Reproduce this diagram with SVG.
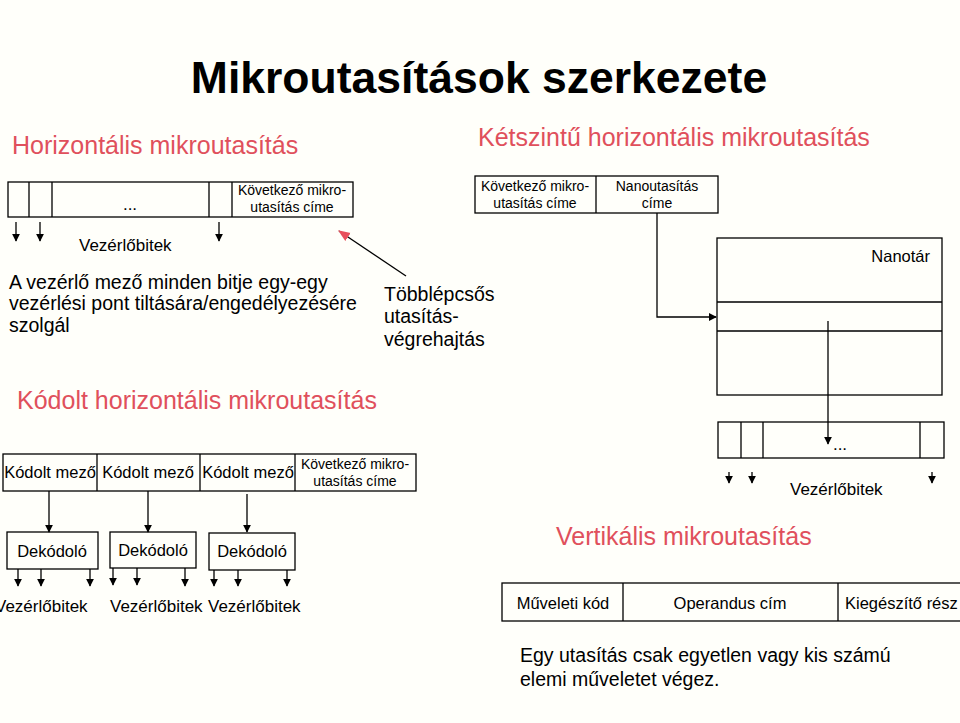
<svg xmlns="http://www.w3.org/2000/svg" width="960" height="723" viewBox="0 0 960 723">
<defs>
<style>
text{font-family:"Liberation Sans",Arial,sans-serif;fill:#000}
.title{font-size:44.5px;font-weight:bold}
.head{font-size:25px;fill:#e0505c}
.s14{font-size:14px}
.s16{font-size:16.5px}
.s17{font-size:17px}
.s19{font-size:19.5px}
.mid{text-anchor:middle}
.box{fill:none;stroke:#000;stroke-width:1.3}
.ln{stroke:#000;stroke-width:1.3;fill:none}
.ar{stroke:#000;stroke-width:1.3;fill:none;marker-end:url(#ah)}
</style>
<marker id="ah" viewBox="0 0 10 10" refX="9" refY="5" markerWidth="8" markerHeight="8" markerUnits="userSpaceOnUse" orient="auto"><path d="M0,0 L10,5 L0,10 z" fill="#000"/></marker>
<marker id="ahr" viewBox="0 0 10 10" refX="9" refY="5" markerWidth="12" markerHeight="12" markerUnits="userSpaceOnUse" orient="auto"><path d="M0,1 L10,5 L0,9 z" fill="#e8505c"/></marker>
</defs>
<rect width="960" height="723" fill="#fffffa"/>
<text class="title mid" x="479" y="93">Mikroutasítások szerkezete</text>

<g id="horizontal">
<text class="head" x="12" y="154">Horizontális mikroutasítás</text>
<rect class="box" x="8" y="182" width="345" height="35"/>
<path class="ln" d="M29,182V217M52,182V217M209,182V217M232,182V217"/>
<text class="s17 mid" x="130" y="210">...</text>
<text class="s14 mid" x="292" y="195">Következő mikro-</text>
<text class="s14 mid" x="292" y="212">utasítás címe</text>
<path class="ar" d="M16,222V241"/>
<path class="ar" d="M40,222V241"/>
<path class="ar" d="M219,222V241"/>
<text class="s17" x="79" y="251">Vezérlőbitek</text>
<text class="s19" x="9" y="289">A vezérlő mező minden bitje egy-egy</text>
<text class="s19" x="9" y="310">vezérlési pont tiltására/engedélyezésére</text>
<text class="s19" x="9" y="332">szolgál</text>
</g>

<g id="multistep">
<text class="s19" x="384" y="301">Többlépcsős</text>
<text class="s19" x="384" y="323">utasítás-</text>
<text class="s19" x="384" y="346">végrehajtás</text>
</g>

<g id="twolevel">
<text class="head" x="478" y="146">Kétszintű horizontális mikroutasítás</text>
<rect class="box" x="475" y="176" width="243" height="37"/>
<path class="ln" d="M596,176V213"/>
<text class="s14 mid" x="535" y="191">Következő mikro-</text>
<text class="s14 mid" x="535" y="208">utasítás címe</text>
<text class="s14 mid" x="657" y="191">Nanoutasítás</text>
<text class="s14 mid" x="657" y="208">címe</text>
</g>

<g id="nanotar">
<rect class="box" x="717" y="238" width="225" height="157"/>
<path class="ln" d="M717,302H942M717,331H942"/>
<text class="s16" x="930" y="262" text-anchor="end">Nanotár</text>
</g>

<g id="nanoword">
<rect class="box" x="718" y="422" width="226" height="36"/>
<path class="ln" d="M741,422V458M763,422V458M920,422V458"/>
<text class="s17 mid" x="840" y="450">...</text>
<path class="ar" d="M729,472V483"/>
<path class="ar" d="M752,472V483"/>
<path class="ar" d="M932,472V483"/>
<text class="s17" x="790" y="495">Vezérlőbitek</text>
</g>

<g id="coded">
<text class="head" x="17" y="409">Kódolt horizontális mikroutasítás</text>
<rect class="box" x="3" y="454" width="413" height="37"/>
<path class="ln" d="M97,454V491"/>
<path class="ln" d="M200,454V491" stroke-width="2.5"/>
<path class="ln" d="M295,454V491"/>
<text class="s16 mid" x="50" y="478">Kódolt mező</text>
<text class="s16 mid" x="148" y="478">Kódolt mező</text>
<text class="s16 mid" x="248" y="478">Kódolt mező</text>
<text class="s14 mid" x="355" y="469">Következő mikro-</text>
<text class="s14 mid" x="355" y="486">utasítás címe</text>
</g>

<g id="dec1">
<rect class="box" x="7" y="532" width="91" height="37"/>
<text class="s16 mid" x="52" y="557">Dekódoló</text>
<path class="ar" d="M18,569V586"/>
<path class="ar" d="M41,569V586"/>
<path class="ar" d="M90,569V586"/>
<text class="s17" x="-5" y="612">Vezérlőbitek</text>
</g>
<g id="dec2">
<rect class="box" x="110" y="532" width="86" height="36"/>
<text class="s16 mid" x="153" y="556">Dekódoló</text>
<path class="ar" d="M113,568V585"/>
<path class="ar" d="M137,568V585"/>
<path class="ln" d="M185,568V586" stroke-width="2.5" marker-end="url(#ah)"/>
<text class="s17" x="110" y="612">Vezérlőbitek</text>
</g>
<g id="dec3">
<rect class="box" x="209" y="533" width="86" height="37"/>
<text class="s16 mid" x="252" y="557">Dekódoló</text>
<path class="ar" d="M214,570V586"/>
<path class="ar" d="M238,570V586"/>
<path class="ar" d="M287,570V586"/>
<text class="s17" x="208" y="612">Vezérlőbitek</text>
</g>

<g id="vertical">
<text class="head" x="556" y="545">Vertikális mikroutasítás</text>
<rect class="box" x="502" y="583" width="470" height="38"/>
<path class="ln" d="M623,583V621M838,583V621"/>
<text class="s16 mid" x="563" y="609">Műveleti kód</text>
<text class="s16 mid" x="730" y="609">Operandus cím</text>
<text class="s16" x="845" y="609">Kiegészítő rész</text>
<text class="s19" x="520" y="662">Egy utasítás csak egyetlen vagy kis számú</text>
<text class="s19" x="520" y="686">elemi műveletet végez.</text>
</g>

<g id="connectors">
<path class="ln" d="M406,276L339,231" stroke="#e8505c" stroke-width="2.5" marker-end="url(#ahr)"/>
<path class="ar" d="M657,213V317H716"/>
<path class="ar" d="M828,321V444"/>
<path class="ar" d="M49,491V532"/>
<path class="ar" d="M148,491V532"/>
<path class="ar" d="M247,494V532"/>
</g>
</svg>
